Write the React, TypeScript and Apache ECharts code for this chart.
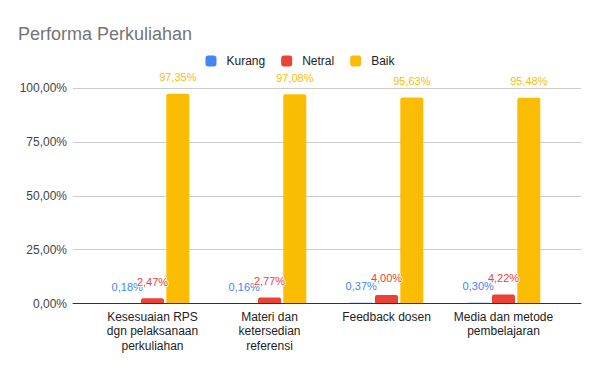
import React, { useEffect, useRef } from "react";
import * as echarts from "echarts";

const categories = [
  "Kesesuaian RPS\ndgn pelaksanaan\nperkuliahan",
  "Materi dan\nketersedian\nreferensi",
  "Feedback dosen",
  "Media dan metode\npembelajaran",
];
const kurang = [0.18, 0.16, 0.37, 0.3];
const netral = [2.47, 2.77, 4.0, 4.22];
const baik = [97.35, 97.08, 95.63, 95.48];
const yTicks = { min: 0, max: 100, interval: 25 };

const FONT = "'Liberation Sans', Arial, sans-serif";
const fmt = (v: number) => v.toFixed(2).replace(".", ",") + "%";

export default function App() {
  const ref = useRef<HTMLDivElement>(null);
  useEffect(() => {
    if (!ref.current) return;
    const chart = echarts.init(ref.current, undefined, { renderer: "svg" });
    const mkSeries = (name: string, data: number[], color: string) => ({
      name,
      type: "bar",
      xAxisIndex: 1,
      yAxisIndex: 1,
      data,
      barWidth: 23,
      barGap: "10%",
      itemStyle: { color, borderRadius: [2, 2, 0, 0] },
      label: {
        show: true,
        position: "top",
        distance: 11,
        formatter: (p: any) => fmt(p.value),
        color,
        fontFamily: FONT,
        fontSize: 11,
        textBorderColor: "#fff",
        textBorderWidth: 2,
      },
    });
    chart.setOption({
      animation: false,
      textStyle: { fontFamily: FONT },
      title: {
        text: "Performa Perkuliahan",
        left: 18,
        top: 25,
        padding: 0,
        textStyle: { color: "#757575", fontSize: 18, fontWeight: "normal", fontFamily: FONT },
      },
      legend: {
        top: 55,
        left: "center",
        padding: 0,
        itemWidth: 11,
        itemHeight: 11,
        itemGap: 16,
        icon: "roundRect",
        textStyle: { color: "#222", fontSize: 12, fontFamily: FONT, padding: [0, 0, 0, 5] },
        data: ["Kurang", "Netral", "Baik"],
      },
      grid: [
        { left: 73, right: 19, top: 88, bottom: 67.5 },
        { left: 94, right: 38, top: 88, bottom: 67.5 },
      ],
      xAxis: [
        {
          type: "value",
          gridIndex: 0,
          min: 0,
          max: 1,
          axisLine: { show: true, lineStyle: { color: "#333", width: 1 } },
          axisTick: { show: false },
          axisLabel: { show: false },
          splitLine: { show: false },
          z: 5,
        },
        {
          type: "category",
          gridIndex: 1,
          data: categories,
          axisLine: { show: false },
          axisTick: { show: false },
          axisLabel: {
            color: "#222",
            fontSize: 12,
            fontFamily: FONT,
            lineHeight: 14.5,
            margin: 6,
            interval: 0,
          },
        },
      ],
      yAxis: [
        {
          type: "value",
          gridIndex: 0,
          ...yTicks,
          axisLine: { show: false },
          axisTick: { show: false },
          axisLabel: {
            color: "#444",
            fontSize: 12,
            fontFamily: FONT,
            margin: 6,
            formatter: (v: number) => fmt(v),
          },
          splitLine: { show: true, lineStyle: { color: "#ccc" } },
        },
        {
          type: "value",
          gridIndex: 1,
          ...yTicks,
          show: false,
          splitLine: { show: false },
        },
      ],
      series: [
        mkSeries("Kurang", kurang, "#4285F4"),
        mkSeries("Netral", netral, "#EA4335"),
        mkSeries("Baik", baik, "#FBBC04"),
      ],
    });
    return () => chart.dispose();
  }, []);
  return (
    <div
      ref={ref}
      style={{ position: "fixed", left: 0, top: 0, width: 600, height: 371, background: "#fff" }}
    />
  );
}
